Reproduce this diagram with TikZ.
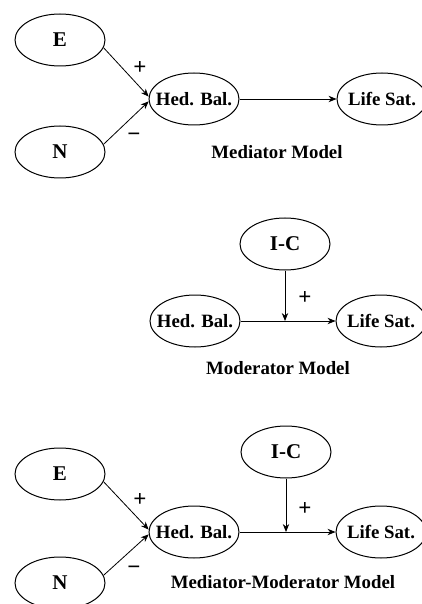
\documentclass[tikz,border=0pt]{standalone}
\usepackage{fontspec}
\setmainfont{Liberation Serif}
\usetikzlibrary{shapes.geometric,arrows.meta}

\tikzset{
	var/.style={shape=ellipse, draw, line width=0.5pt, minimum width=45pt, minimum height=26pt, inner xsep=-4pt, inner ysep=0pt, font=\bfseries\fontsize{9.4}{11}\selectfont},
	bigvar/.style={var, font=\bfseries\fontsize{10.5}{12}\selectfont},
	link/.style={line width=0.4pt, -{Stealth[length=4pt, width=3.2pt]}},
	sign/.style={inner sep=0pt, font=\bfseries\fontsize{11.5}{13}\selectfont},
	caption/.style={inner sep=0pt, font=\bfseries\fontsize{9.4}{11}\selectfont}
}

\begin{document}
\begin{tikzpicture}[x=0.5pt, y=-0.5pt]
	\useasboundingbox (0, 0) rectangle (422, 604);
	% Mediator model:
	\node[bigvar] (E1) at (60, 40){E};
	\node[bigvar] (N1) at (60, 152){N};
	\node[var] (HB1) at (194, 99){Hed. Bal.};
	\node[var] (LS1) at (382, 99){Life Sat.};
	\draw[link] (E1.-10) -- (HB1.177);
	\draw[link] (N1.10) -- (HB1.183);
	\draw[link] (HB1) -- (LS1);
	\node[sign] (P1) at (140, 68){+};
	\node[sign] (M1) at (134, 137){−};
	\node[caption] (T1) at (277, 152){Mediator Model};
	% Moderator model:
	\node[bigvar] (IC2) at (285, 244){I-C};
	\node[var] (HB2) at (195, 321){Hed. Bal.};
	\node[var] (LS2) at (381, 321){Life Sat.};
	\coordinate (J2) at (IC2 |- HB2);
	\draw[link] (HB2) -- (LS2);
	\draw[link] (IC2) -- (J2);
	\node[sign] (P2) at (305, 298){+};
	\node[caption] (T2) at (278, 368){Moderator Model};
	% Mediator-moderator model:
	\node[bigvar] (E3) at (60, 474){E};
	\node[bigvar] (N3) at (60, 583){N};
	\node[bigvar] (IC3) at (286, 452){I-C};
	\node[var] (HB3) at (194, 532){Hed. Bal.};
	\node[var] (LS3) at (381, 532){Life Sat.};
	\coordinate (J3) at (IC3 |- HB3);
	\draw[link] (E3.-10) -- (HB3.177);
	\draw[link] (N3.10) -- (HB3.183);
	\draw[link] (HB3) -- (LS3);
	\draw[link] (IC3) -- (J3);
	\node[sign] (P3) at (140, 500){+};
	\node[sign] (M3) at (134, 570){−};
	\node[sign] (P4) at (305, 509){+};
	\node[caption] (T3) at (283, 582){Mediator-Moderator Model};
\end{tikzpicture}
\end{document}
